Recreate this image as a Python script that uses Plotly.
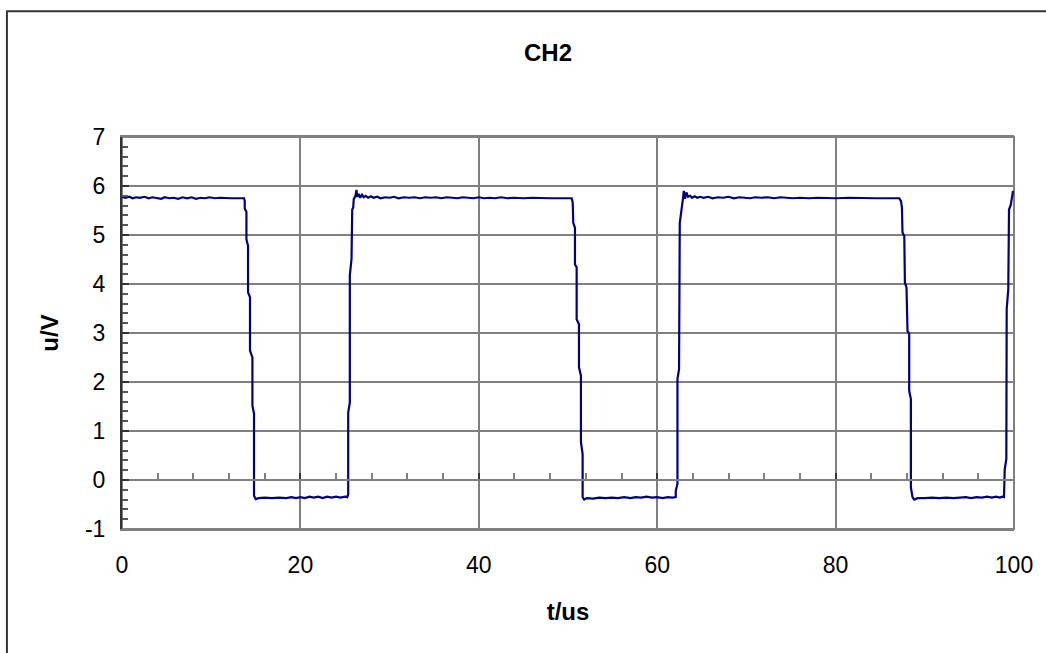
import plotly.graph_objects as go

# ---- data (t in microseconds, u in volts) ----
high1_t = [0.0, 0.4, 0.8, 1.2, 1.6, 2.0, 2.5, 3.0, 3.4, 3.9, 4.4, 4.8, 5.3, 5.8, 6.3, 6.8, 7.3, 7.8,
           8.3, 8.8, 9.3, 9.8, 10.4, 11.0, 11.6, 12.2, 12.9, 13.68]
high1_u = [5.78, 5.76, 5.78, 5.75, 5.77, 5.76, 5.78, 5.75, 5.77, 5.76, 5.74, 5.77, 5.75, 5.76, 5.74, 5.77, 5.75, 5.77,
           5.74, 5.76, 5.75, 5.77, 5.75, 5.76, 5.75, 5.75, 5.75, 5.75]

fall1_t = [13.76, 13.76, 13.95, 13.95, 14.13, 14.13, 14.35, 14.35, 14.62, 14.62, 14.80, 14.80, 14.99]
fall1_u = [5.69, 5.54, 5.47, 4.91, 4.78, 3.83, 3.73, 2.64, 2.50, 1.52, 1.35, -0.32, -0.39]

low1_t = [15.3, 16.0, 16.8, 17.6, 18.4, 19.0, 19.5, 20.0, 20.5, 21.0, 21.5, 22.0, 22.5, 23.0, 23.5, 24.0, 24.5, 25.0, 25.25]
low1_u = [-0.37, -0.36, -0.37, -0.36, -0.37, -0.35, -0.37, -0.35, -0.37, -0.34, -0.36, -0.34, -0.37, -0.34, -0.36, -0.34, -0.36, -0.34, -0.35]

rise1_t = [25.36, 25.36, 25.54, 25.54, 25.73, 25.81, 25.92, 25.98, 26.17, 26.29, 26.36, 26.54, 26.7, 26.9, 27.1, 27.3, 27.6, 27.9]
rise1_u = [-0.29, 1.38, 1.58, 4.17, 4.51, 5.52, 5.56, 5.73, 5.80, 5.92, 5.78, 5.84, 5.76, 5.82, 5.77, 5.80, 5.76, 5.79]

high2_t = [28.2, 28.6, 29.0, 29.5, 30.0, 30.5, 31.0, 31.6, 32.2, 32.8, 33.4, 34.0, 34.6, 35.2, 35.8, 36.4, 37.0, 37.6,
           38.2, 38.8, 39.4, 40.0, 40.6, 41.2, 41.8, 42.5, 43.2, 44.0, 45.0, 46.0, 47.0, 48.0, 49.0, 50.41]
high2_u = [5.76, 5.78, 5.75, 5.77, 5.76, 5.78, 5.75, 5.77, 5.76, 5.77, 5.75, 5.77, 5.76, 5.77, 5.75, 5.77, 5.76, 5.75,
           5.77, 5.76, 5.75, 5.77, 5.75, 5.76, 5.75, 5.77, 5.75, 5.76, 5.75, 5.76, 5.75, 5.75, 5.75, 5.75]

fall2_t = [50.53, 50.59, 50.78, 50.78, 50.97, 50.97, 51.23, 51.23, 51.45, 51.45, 51.64, 51.64, 51.82]
fall2_u = [5.66, 5.25, 5.15, 4.40, 4.34, 3.28, 3.18, 2.30, 2.13, 0.77, 0.53, -0.35, -0.40]

low2_t = [52.1, 52.8, 53.5, 54.2, 54.9, 55.6, 56.3, 57.0, 57.6, 58.2, 58.8, 59.4, 60.0, 60.6, 61.2, 61.7, 62.08]
low2_u = [-0.37, -0.38, -0.36, -0.37, -0.36, -0.37, -0.35, -0.37, -0.35, -0.36, -0.34, -0.36, -0.35, -0.37, -0.35, -0.36, -0.35]

rise2_t = [62.08, 62.27, 62.27, 62.45, 62.53, 62.72, 62.83, 62.90, 62.98, 63.12, 63.28, 63.46, 63.7, 63.9, 64.2, 64.5, 64.8]
rise2_u = [-0.22, -0.08, 2.06, 2.26, 5.25, 5.46, 5.66, 5.76, 5.90, 5.74, 5.87, 5.78, 5.80, 5.76, 5.79, 5.76, 5.78]

high3_t = [65.2, 65.7, 66.2, 66.8, 67.4, 68.0, 68.6, 69.2, 69.8, 70.4, 71.0, 71.7, 72.4, 73.1, 73.8, 74.5, 75.2,
           76.0, 77.0, 78.0, 79.0, 80.0, 81.5, 83.0, 84.5, 86.0, 87.14]
high3_u = [5.76, 5.78, 5.75, 5.77, 5.76, 5.78, 5.75, 5.77, 5.76, 5.75, 5.77, 5.76, 5.77, 5.75, 5.77, 5.76, 5.75,
           5.76, 5.75, 5.76, 5.75, 5.75, 5.76, 5.75, 5.75, 5.75, 5.75]

fall3_t = [87.33, 87.44, 87.50, 87.70, 87.77, 87.95, 88.06, 88.25, 88.25, 88.44, 88.44, 88.62, 88.81]
fall3_u = [5.69, 5.56, 5.05, 4.98, 4.03, 3.93, 3.04, 2.98, 1.82, 1.65, -0.15, -0.35, -0.40]

low3_t = [89.2, 90.0, 90.8, 91.6, 92.4, 93.2, 94.0, 94.6, 95.2, 95.8, 96.4, 97.0, 97.5, 98.0, 98.4, 98.7, 98.88]
low3_u = [-0.37, -0.37, -0.36, -0.37, -0.36, -0.37, -0.36, -0.35, -0.37, -0.35, -0.36, -0.34, -0.36, -0.34, -0.36, -0.34, -0.35]

rise3_t = [98.96, 99.14, 99.18, 99.36, 99.44, 99.63, 99.70, 99.81, 99.89]
rise3_u = [0.22, 0.43, 3.49, 3.89, 5.52, 5.61, 5.69, 5.76, 5.90]

t_us = (high1_t + fall1_t + low1_t + rise1_t + high2_t + fall2_t + low2_t + rise2_t
        + high3_t + fall3_t + low3_t + rise3_t)
u_V = (high1_u + fall1_u + low1_u + rise1_u + high2_u + fall2_u + low2_u + rise2_u
       + high3_u + fall3_u + low3_u + rise3_u)

x_range = [0, 100]
y_range = [-1, 7]
x_tickvals = [0, 20, 40, 60, 80, 100]
x_ticktext = ["0", "20", "40", "60", "80", "100"]
y_tickvals = [-1, 0, 1, 2, 3, 4, 5, 6, 7]
y_ticktext = ["-1", "0", "1", "2", "3", "4", "5", "6", "7"]

FONT = "Arial, 'Liberation Sans', sans-serif"
GRID = "#808080"
DARK = "#333333"

fig = go.Figure()
fig.add_trace(go.Scatter(x=t_us, y=u_V, mode="lines",
                         line=dict(color="#000080", width=2.2), showlegend=False,
                         hoverinfo="x+y"))
# helper trace so the overlay x-axis (the one crossing at u = 0) is drawn
fig.add_trace(go.Scatter(x=x_range, y=[None, None], xaxis="x2", yaxis="y",
                         mode="lines", showlegend=False, hoverinfo="skip"))

fig.update_layout(
    width=1046, height=653,
    margin=dict(l=122, r=32, t=137, b=124),
    paper_bgcolor="white", plot_bgcolor="white",
    font=dict(family=FONT, color="black", size=23),
    showlegend=False,
    title=dict(text="<b>CH2</b>", x=0.4776, xref="paper", xanchor="center",
               y=0.920, yref="container", yanchor="middle",
               font=dict(size=24, family=FONT, color="black")),
    xaxis=dict(range=x_range, tickmode="array", tickvals=x_tickvals, ticktext=x_ticktext,
               showgrid=True, gridcolor=GRID, gridwidth=1.5,
               showline=True, linecolor=GRID, linewidth=2, mirror=True, ticks="",
               zeroline=False, tickfont=dict(size=23), ticklabelstandoff=14,
               title=dict(text="<b>t/us</b>", font=dict(size=24), standoff=27)),
    xaxis2=dict(range=x_range, overlaying="x", anchor="free", position=0.125, side="bottom",
                showline=True, linecolor=GRID, linewidth=2, showgrid=False, zeroline=False,
                showticklabels=False, dtick=20, tick0=0, ticks="inside", ticklen=6,
                tickcolor=DARK, tickwidth=2,
                minor=dict(dtick=4, tick0=0, ticks="inside", ticklen=6, tickcolor=GRID,
                           tickwidth=1.5, showgrid=False)),
    yaxis=dict(range=y_range, tickmode="array", tickvals=y_tickvals, ticktext=y_ticktext,
               showgrid=True, gridcolor=GRID, gridwidth=1.5,
               showline=True, linecolor=DARK, linewidth=2, zeroline=False,
               ticks="inside", ticklen=7, tickcolor=DARK, tickwidth=2,
               minor=dict(dtick=0.2, tick0=0, ticks="inside", ticklen=6, tickcolor="#555555",
                          tickwidth=1.5, showgrid=False),
               tickfont=dict(size=23), ticklabelstandoff=10,
               title=dict(text="<b>u/V</b>", font=dict(size=24), standoff=20)),
    shapes=[
        dict(type="rect", xref="paper", yref="paper", x0=0, x1=1, y0=0, y1=1,
             line=dict(color=GRID, width=2), layer="below"),
        dict(type="rect", xref="paper", yref="paper", x0=-0.129, x1=1.06, y0=-0.37, y1=1.321,
             line=dict(color=DARK, width=2), layer="above"),
    ],
)

fig.write_html("out.html")
